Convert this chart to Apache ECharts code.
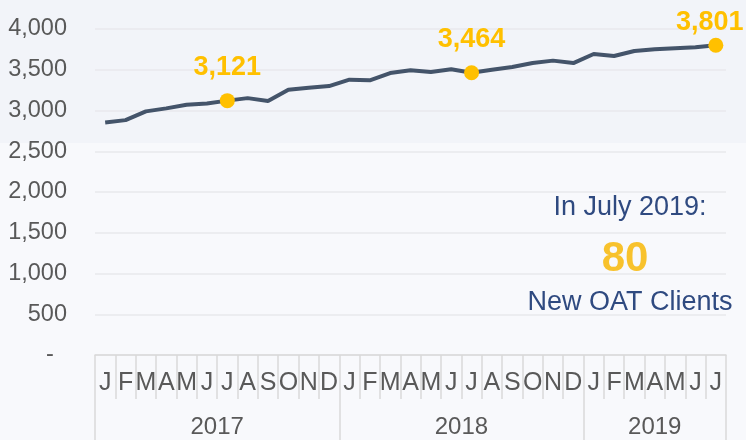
<!DOCTYPE html>
<html>
<head>
<meta charset="utf-8">
<script src="https://cdn.jsdelivr.net/npm/echarts@6/dist/echarts.min.js"></script>
<style>
  html, body { margin: 0; padding: 0; background: #f8f9fc; }
  #chart { width: 746px; height: 440px; }
</style>
</head>
<body>
<div id="chart"></div>
<script>
var months = ['J','F','M','A','M','J','J','A','S','O','N','D',
              'J','F','M','A','M','J','J','A','S','O','N','D',
              'J','F','M','A','M','J','J'];
var clients = [2854, 2882, 2989, 3026, 3071, 3087, 3121, 3152, 3116, 3255, 3280, 3300,
               3378, 3370, 3460, 3493, 3472, 3505, 3464, 3501, 3533, 3582, 3612, 3582,
               3693, 3668, 3730, 3751, 3763, 3775, 3801];
var highlighted = [6, 18, 30];
var years = ['2017', '2018', '2019'];
var yearCenters = [6, 18, 27.5];
var yearBounds = [0, 12, 24, 31];

var font = '"Liberation Sans", Arial, sans-serif';
var gold = '#ffc000';
var navy = '#2f4a80';

var seriesData = clients.map(function (v, i) {
    if (highlighted.indexOf(i) < 0) {
        return { value: v, symbol: 'none' };
    }
    var item = {
        value: v,
        symbol: 'circle',
        symbolSize: 15,
        itemStyle: { color: gold },
        label: { show: true }
    };
    if (i === clients.length - 1) {
        item.label.offset = [-6, 10];
    }
    return item;
});

var chart = echarts.init(document.getElementById('chart'));
chart.setOption({
    backgroundColor: '#f8f9fc',
    animation: false,
    textStyle: { fontFamily: font },
    grid: { left: 95, right: 20, top: 29, bottom: 85 },
    graphic: [
        {
            type: 'rect',
            z: -100,
            shape: { x: 0, y: 0, width: 746, height: 143 },
            style: { fill: '#f2f4f9' }
        },
        {
            type: 'text', x: 630, y: 208,
            style: { text: 'In July 2019:', fill: navy, font: '27px ' + font, textAlign: 'center', textVerticalAlign: 'middle' }
        },
        {
            type: 'text', x: 625, y: 259,
            style: { text: '80', fill: '#f8c22c', font: 'bold 42px ' + font, textAlign: 'center', textVerticalAlign: 'middle' }
        },
        {
            type: 'text', x: 630, y: 303,
            style: { text: 'New OAT Clients', fill: navy, font: '27px ' + font, textAlign: 'center', textVerticalAlign: 'middle' }
        }
    ],
    xAxis: [
        {
            type: 'category',
            data: months,
            position: 'bottom',
            boundaryGap: true,
            axisLine: { show: true, lineStyle: { color: '#d9d9d9', width: 1.5 } },
            axisTick: { show: true, interval: 0, length: 44, lineStyle: { color: '#d9d9d9', width: 1.5 } },
            axisLabel: { interval: 0, color: '#595959', fontSize: 25, lineHeight: 25, margin: 16 },
            splitLine: { show: false }
        },
        {
            type: 'value',
            position: 'bottom',
            min: 0,
            max: 31,
            axisLine: { show: false },
            axisTick: { show: true, customValues: yearBounds, length: 86, lineStyle: { color: '#d9d9d9', width: 1.5 } },
            axisLabel: {
                customValues: yearCenters,
                color: '#595959', fontSize: 24, lineHeight: 24, margin: 60,
                formatter: function (v) {
                    var k = yearCenters.indexOf(v);
                    return k < 0 ? '' : years[k];
                }
            },
            splitLine: { show: false }
        }
    ],
    yAxis: {
        type: 'value',
        min: 0,
        max: 4000,
        interval: 500,
        axisLine: { show: false },
        axisTick: { show: false },
        axisLabel: {
            color: '#595959', fontSize: 23.5, margin: 28,
            formatter: function (v) {
                return v === 0 ? '-  ' : v.toLocaleString('en-US');
            }
        },
        splitLine: { lineStyle: { color: '#e8e9ed', width: 1.5 } }
    },
    series: [{
        type: 'line',
        xAxisIndex: 0,
        data: seriesData,
        lineStyle: { color: '#44546a', width: 4 },
        itemStyle: { color: gold },
        label: {
            show: false,
            position: 'top',
            distance: 12,
            color: gold,
            fontWeight: 'bold',
            fontSize: 27,
            formatter: function (p) { return p.value.toLocaleString('en-US'); }
        }
    }]
});
</script>
</body>
</html>
